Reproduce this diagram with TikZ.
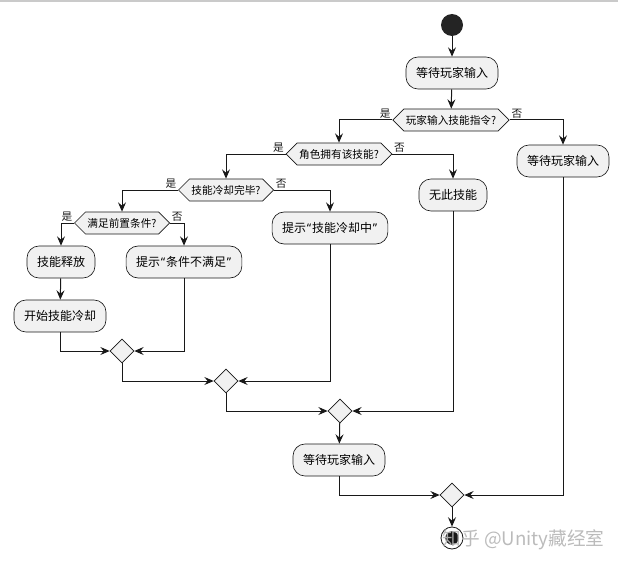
\documentclass[tikz,border=0pt]{standalone}
\usepackage{fontspec}
\setmainfont{Noto Sans CJK SC}
\newfontfamily\quotefont{Noto Sans}
\usetikzlibrary{arrows.meta, shapes.geometric, shapes.symbols}
\definecolor{cFill}{HTML}{F1F1F1}
\definecolor{cLine}{HTML}{181818}
\definecolor{cMark}{HTML}{B4B4B4}
\newcommand{\openq}{{\quotefont\kern0.6pt“\kern0.6pt}}
\newcommand{\closeq}{{\quotefont\kern0.6pt”\kern0.6pt}}

\begin{document}
\begin{tikzpicture}[
    x=0.75pt, y=-0.75pt, font=\fontsize{9}{11}\selectfont,
    act/.style={draw=cLine, fill=cFill, line width=0.5pt, rounded corners=9pt,
                minimum height=24pt, inner xsep=7.5pt},
    ask/.style={draw=cLine, fill=cFill, line width=0.5pt, signal,
                signal to=east and west, signal pointer angle=90,
                minimum height=16.5pt, inner xsep=1.5pt, inner ysep=1pt,
                font=\fontsize{8}{10}\selectfont},
    merge/.style={draw=cLine, fill=cFill, diamond, line width=0.5pt,
                  minimum size=18pt, inner sep=0pt},
    startc/.style={circle, fill=cLine!95, minimum size=16.5pt, inner sep=0pt},
    stopc/.style={circle, draw=cLine, fill=white, line width=0.6pt,
                  minimum size=16.5pt, inner sep=0pt,
                  path picture={\fill[cLine] (path picture bounding box.center) circle (5pt);}},
    flow/.style={-{Stealth[length=7pt, width=6pt, inset=2.5pt]}, line width=0.75pt, cLine},
    lbl/.style={font=\fontsize{8}{10}\selectfont, inner sep=1pt},
]
\useasboundingbox (0,0) rectangle (618,567);
\draw[cMark!70, line width=1.2pt] (0,0.8) -- (618,0.8);

% ===========================================================================
% Entrada
% ===========================================================================
\node[startc] (start) at (452,25) {};
\node[act] (wait1) at (452,73) {等待玩家输入};
\node[ask] (askCmd) at (451,120) {玩家输入技能指令?};
\node[act] (wait2) at (563,161) {等待玩家输入};

% ----- comprobaciones de la habilidad -----
\node[ask] (hasSkill) at (339,154) {角色拥有该技能?};
\node[act] (noSkill) at (453,195) {无此技能};
\node[ask] (cdDone) at (226,190) {技能冷却完毕?};
\node[act] (tipCd) at (330,228) {提示\openq 技能冷却中\closeq};
\node[ask] (preOk) at (122,223) {满足前置条件?};
\node[act] (cast) at (61,262) {技能释放};
\node[act] (tipCond) at (184,262) {提示\openq 条件不满足\closeq};
\node[act] (startCd) at (60,316) {开始技能冷却};

% ----- uniones -----
\node[merge] (m1) at (122,351) {};
\node[merge] (m2) at (226,381) {};
\node[merge] (m3) at (340,411) {};
\node[act] (wait3) at (339,460) {等待玩家输入};
\node[merge] (m4) at (452,495) {};
\node[stopc] (stop) at (452,538) {};

% ===========================================================================
% Flujo
% ===========================================================================
\draw[flow] (start) -- (wait1);
\draw[flow] (wait1) -- (askCmd);
\draw[flow] (askCmd.west) -| (hasSkill.north) node[pos=0, lbl, anchor=south east] {是};
\draw[flow] (askCmd.east) -| (wait2.north) node[pos=0, lbl, anchor=south west] {否};
\draw[flow] (hasSkill.west) -| (cdDone.north) node[pos=0, lbl, anchor=south east] {是};
\draw[flow] (hasSkill.east) -| (noSkill.north) node[pos=0, lbl, anchor=south west] {否};
\draw[flow] (cdDone.west) -| (preOk.north) node[pos=0, lbl, anchor=south east] {是};
\draw[flow] (cdDone.east) -| (tipCd.north) node[pos=0, lbl, anchor=south west] {否};
\draw[flow] (preOk.west) -| (cast.north) node[pos=0, lbl, anchor=south east] {是};
\draw[flow] (preOk.east) -| (tipCond.north) node[pos=0, lbl, anchor=south west] {否};
\draw[flow] (cast) -- (startCd);

\draw[flow] (startCd.south) |- (m1.west);
\draw[flow] (tipCond.south) |- (m1.east);
\draw[flow] (m1.south) |- (m2.west);
\draw[flow] (tipCd.south) |- (m2.east);
\draw[flow] (m2.south) |- (m3.west);
\draw[flow] (noSkill.south) |- (m3.east);
\draw[flow] (m3) -- (wait3);
\draw[flow] (wait3.south) |- (m4.west);
\draw[flow] (wait2.south) |- (m4.east);
\draw[flow] (m4) -- (stop);

% marca de agua
\node[font=\fontsize{14}{16}\selectfont, text=cMark, anchor=west, opacity=0.9] (mark) at (438,540) {知乎 @Unity藏经室};
\end{tikzpicture}
\end{document}
